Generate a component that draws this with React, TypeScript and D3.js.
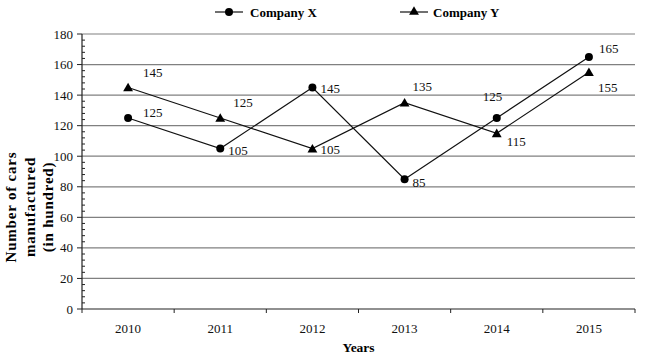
import React from "react";
import * as d3 from "d3";

const years = ["2010", "2011", "2012", "2013", "2014", "2015"];
const companyX = [125, 105, 145, 85, 125, 165];
const companyY = [145, 125, 105, 135, 115, 155];
const yTicks = [0, 20, 40, 60, 80, 100, 120, 140, 160, 180];

// label placement: [dx, dy] relative to point (text-anchor start, middle baseline)
const labelOffX: [number, number][] = [[15, -6], [8, 2], [8, 1], [8, 3], [-14, -22], [10, -8]];
const labelOffY: [number, number][] = [[15, -15], [13, -16], [8, 1], [8, -16], [10, 8], [9, 15]];

const W = 650, H = 362;
const left = 82, right = 635, top = 34, bottom = 309;
const font = "'Liberation Serif', 'Times New Roman', serif";

export default function App() {
  const x = d3.scaleBand<string>().domain(years).range([left, right]);
  const y = d3.scaleLinear().domain([0, 180]).range([bottom, top]);
  const cx = (d: string) => (x(d) as number) + x.bandwidth() / 2;
  const line = d3.line<number>().x((_, i) => cx(years[i])).y((v) => y(v));
  const minor = d3.range(0, 181, 4).filter((v) => v % 20 !== 0);
  const tri = d3.symbol().type(d3.symbolTriangle).size(42)();
  const xEdges = [...years.map((d) => x(d) as number), right];

  return (
    <svg width={W} height={H} style={{ position: "absolute", left: 0, top: 0 }} fontFamily={font}>
      <rect width={W} height={H} fill="#fff" />
      {/* gridlines */}
      {yTicks.filter((v) => v > 0).map((v) => (
        <line key={v} x1={left} x2={right} y1={y(v)} y2={y(v)} stroke="#808080" strokeWidth={1.2} />
      ))}
      {/* y axis */}
      <line x1={left} x2={left} y1={top} y2={bottom} stroke="#222" strokeWidth={1.2} />
      {yTicks.map((v) => (
        <g key={v}>
          <line x1={left - 5} x2={left} y1={y(v)} y2={y(v)} stroke="#222" />
          <text x={left - 9} y={y(v)} dy="0.35em" textAnchor="end" fontSize={13} fill="#111">{v}</text>
        </g>
      ))}
      {minor.map((v) => (
        <line key={v} x1={left} x2={left + 3} y1={y(v)} y2={y(v)} stroke="#222" />
      ))}
      {/* x axis */}
      <line x1={left} x2={right} y1={bottom} y2={bottom} stroke="#222" strokeWidth={1.2} />
      {xEdges.map((e, i) => (
        <line key={i} x1={e} x2={e} y1={bottom} y2={bottom + 4} stroke="#222" />
      ))}
      {years.map((d) => (
        <text key={d} x={cx(d)} y={333} textAnchor="middle" fontSize={13} fill="#111">{d}</text>
      ))}
      <text x={(left + right) / 2} y={352} textAnchor="middle" fontSize={13.5} fontWeight="bold">Years</text>
      {/* y title */}
      <g transform="translate(16,207) rotate(-90)">
        <text x={0} y={0} textAnchor="middle" fontSize={15} fontWeight="bold" letterSpacing={0.8}>Number of cars</text>
        <text x={0} y={18.5} textAnchor="middle" fontSize={15} fontWeight="bold" letterSpacing={0.8}>manufactured</text>
        <text x={0} y={37} textAnchor="middle" fontSize={15} fontWeight="bold" letterSpacing={0.8}>(in hundred)</text>
      </g>
      {/* lines */}
      <path d={line(companyX) as string} fill="none" stroke="#111" strokeWidth={1.2} />
      <path d={line(companyY) as string} fill="none" stroke="#111" strokeWidth={1.2} />
      {companyX.map((v, i) => (
        <circle key={i} cx={cx(years[i])} cy={y(v)} r={4} fill="#000" />
      ))}
      {companyY.map((v, i) => (
        <path key={i} d={tri as string} transform={`translate(${cx(years[i])},${y(v) + 1})`} fill="#000" />
      ))}
      {companyX.map((v, i) => (
        <text key={i} x={cx(years[i]) + labelOffX[i][0]} y={y(v) + labelOffX[i][1]} dy="0.35em" fontSize={13} fill="#111">{v}</text>
      ))}
      {companyY.map((v, i) => (
        <text key={i} x={cx(years[i]) + labelOffY[i][0]} y={y(v) + labelOffY[i][1]} dy="0.35em" fontSize={13} fill="#111">{v}</text>
      ))}
      {/* legend */}
      <line x1={215} x2={243} y1={12} y2={12} stroke="#111" strokeWidth={1.2} />
      <circle cx={229} cy={12} r={4} fill="#000" />
      <text x={250} y={12} dy="0.35em" fontSize={13} fontWeight="bold">Company X</text>
      <line x1={400} x2={428} y1={12} y2={12} stroke="#111" strokeWidth={1.2} />
      <path d={tri as string} transform="translate(414,12)" fill="#000" />
      <text x={433} y={12} dy="0.35em" fontSize={13} fontWeight="bold">Company Y</text>
    </svg>
  );
}
